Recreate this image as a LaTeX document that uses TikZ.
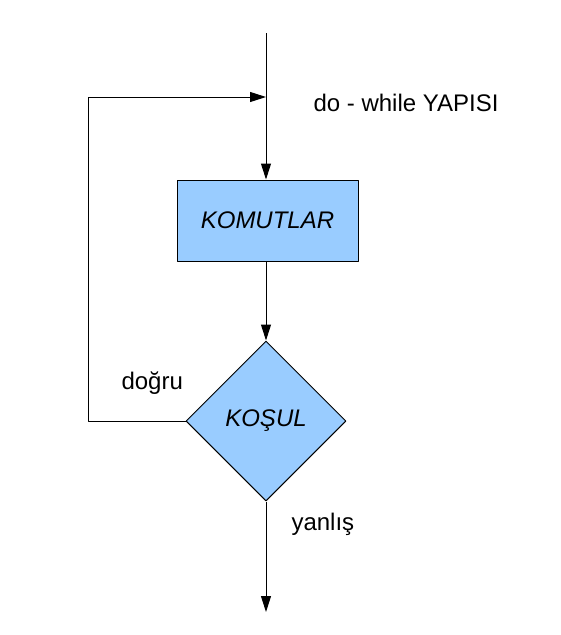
\documentclass[tikz,border=0pt]{standalone}
\usepackage{fontspec}
\setmainfont{Liberation Sans}
\usetikzlibrary{shapes.geometric,arrows.meta}
\definecolor{kutu}{HTML}{99CCFF}
\tikzset{
  blok/.style={draw, fill=kutu, inner sep=0pt, font=\fontsize{24}{28}\selectfont\itshape},
  etiket/.style={anchor=base west, inner sep=0pt}
}
\begin{document}
\begin{tikzpicture}[x=1pt, y=-1pt, line width=1pt, line join=round, >={Triangle[length=16pt,width=10pt]}, font=\fontsize{24}{28}\selectfont]
	\useasboundingbox (0,0) rectangle (561,635);
	\node[blok, minimum width=181pt, minimum height=81pt] (komut) at (267.5,220.5) {KOMUTLAR};
	\node[blok, diamond, minimum width=160pt, minimum height=160pt] (kosul) at (266,421) {KOŞUL};
	\coordinate (bas) at (266,33);
	\coordinate (son) at (266,612);
	\coordinate (sol) at (88,421);
	\coordinate (giris) at (266,97);
	\draw[->] (bas) -- (bas |- komut.north);
	\draw[->] (bas |- komut.south) -- (kosul.north);
	\draw[->] (kosul.south) -- (son);
	\draw[->] (kosul.west) -- (sol) |- (giris);
	\node[etiket] (baslik) at (313,111) {do - while YAPISI};
	\node[etiket] (dogru) at (121,389) {doğru};
	\node[etiket] (yanlis) at (291,530) {yanlış};
\end{tikzpicture}
\end{document}
